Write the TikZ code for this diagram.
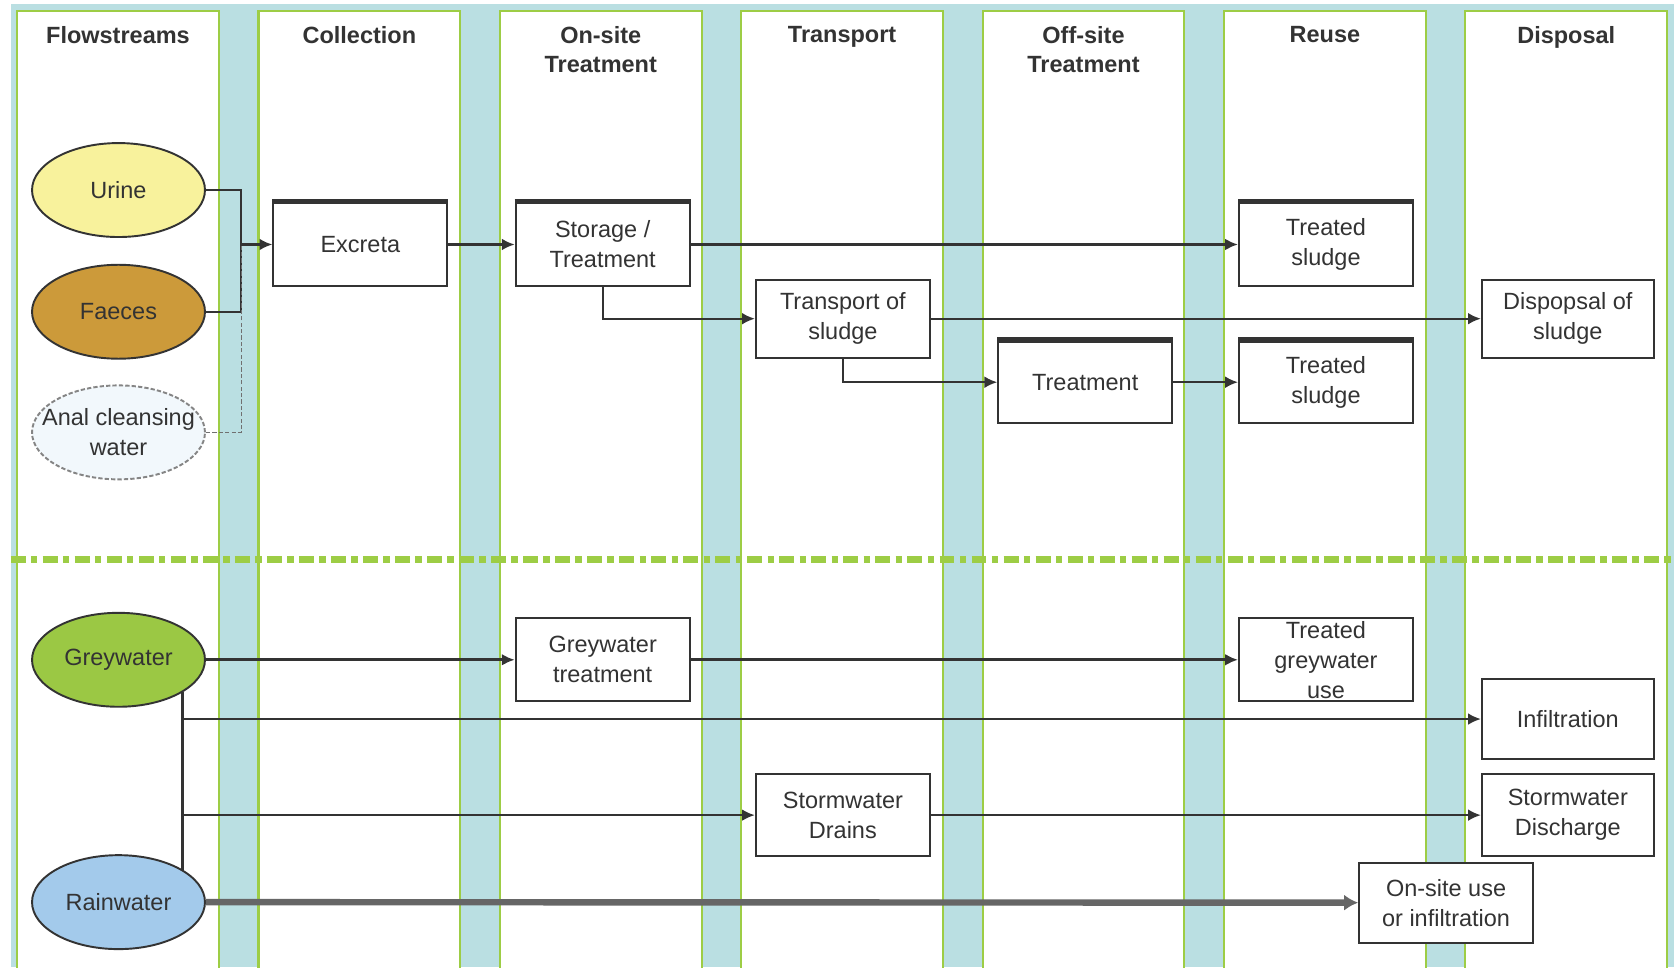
\documentclass[tikz,border=0pt]{standalone}
\usepackage{fontspec}
\setmainfont{Liberation Sans}
\usetikzlibrary{arrows.meta,shapes.geometric}

\definecolor{laneblue}{HTML}{BADFE2}
\definecolor{lanegreen}{HTML}{9DCD45}
\definecolor{urinecol}{HTML}{F8F29C}
\definecolor{faecescol}{HTML}{CC9A3A}
\definecolor{analcol}{HTML}{F2F8FC}
\definecolor{greycol}{HTML}{9BC844}
\definecolor{raincol}{HTML}{A3CAEB}
\definecolor{ink}{HTML}{333333}

\begin{document}
\begin{tikzpicture}[x=0.5pt, y=-0.5pt, >={Latex[length=6pt,width=5.5pt]},
	every node/.style={font=\fontsize{11}{14}\selectfont, text=ink},
	stream/.style={ellipse, draw=ink, line width=0.9pt, minimum width=81pt, minimum height=44pt, inner sep=0pt, align=center},
	techbox/.style={draw=ink, line width=0.9pt, fill=white, minimum width=81.5pt, minimum height=39pt, inner sep=1pt, align=center},
	lanehead/.style={font=\bfseries\fontsize{11}{14}\selectfont, anchor=north, inner sep=0pt, align=center},
	flowline/.style={draw=ink, line width=1pt}]
	\useasboundingbox (0,0) rectangle (1568,906);
	\clip (0,0) rectangle (1568,906);
	\fill[laneblue] (10,4) rectangle (1568,906);
	\foreach \i/\lanename in {0/Flowstreams, 1/Collection, 2/{On-site\\Treatment}, 3/Transport, 4/{Off-site\\Treatment}, 5/Reuse, 6/Disposal} {
		\pgfmathsetmacro\xl{16+226.1*\i}
		\filldraw[fill=white, draw=lanegreen, line width=1pt] (\xl,910) -- (\xl,10) -- (\xl+189,10) -- (\xl+189,910);
		\node[lanehead] (head\i) at (\xl+94.5,24) {\lanename};
	}
	\draw[lanegreen, line width=3.5pt, dash pattern=on 7pt off 2.5pt on 3pt off 2.5pt] (10,524) -- (1568,524);

	\node[stream, fill=urinecol] (urine) at (111,178) {Urine};
	\node[stream, fill=faecescol] (faeces) at (111,292) {Faeces};
	\node[stream, fill=analcol, draw=ink!60, dash pattern=on 2pt off 1pt, inner xsep=-8pt, inner ysep=-3pt] (anal) at (111,405) {Anal cleansing\\water};
	\node[stream, fill=greycol] (grey) at (111,618) {Greywater};
	\node[stream, fill=raincol] (rain) at (111,845) {Rainwater};

	\node[techbox] (excreta) at (337.5,229) {Excreta};
	\node[techbox] (storage) at (564.5,229) {Storage /\\Treatment};
	\node[techbox] (sludgeA) at (1242,229) {Treated\\sludge};
	\node[techbox, minimum height=36.5pt] (haul) at (789.5,298.5) {Transport of\\sludge};
	\node[techbox, minimum height=36.5pt, minimum width=80.5pt] (sludgedisp) at (1468.5,298.5) {Dispopsal of\\sludge};
	\node[techbox, minimum height=38pt] (offtreat) at (1016.5,358) {Treatment};
	\node[techbox, minimum height=38pt] (sludgeB) at (1242,358) {Treated\\sludge};
	\node[techbox] (greytreat) at (564.5,618) {Greywater\\treatment};
	\node[techbox] (greyuse) at (1242,618) {Treated\\greywater\\use};
	\node[techbox, minimum height=37.5pt, minimum width=80.5pt] (infil) at (1468.5,673.5) {Infiltration};
	\node[techbox, minimum height=38.5pt] (drains) at (789.5,763.5) {Stormwater\\Drains};
	\node[techbox, minimum height=38.5pt, minimum width=80.5pt] (discharge) at (1468.5,763.5) {Stormwater\\Discharge};
	\node[techbox, minimum height=37.5pt] (onsite) at (1354.5,845.5) {On-site use\\or infiltration};
	\foreach \n in {excreta, storage, sludgeA, offtreat, sludgeB}
		\draw[ink, line width=1.5pt] ([yshift=0.8pt]\n.north west) -- ([yshift=0.8pt]\n.north east);

	\coordinate (merge) at (226,229);
	\draw[flowline] (urine.east) -| (merge);
	\draw[flowline] (faeces.east) -| (merge);
	\draw[flowline, draw=ink!70, line width=0.6pt, dash pattern=on 2pt off 1pt] (anal.east) -| (merge);
	\draw[flowline, ->] (merge) -- (excreta.west);
	\draw[flowline, ->] (excreta.east) -- (storage.west);
	\draw[flowline, ->, line width=1.4pt] (storage.east) -- (sludgeA.west);
	\draw[flowline, ->] (storage.south) |- (haul.west);
	\draw[flowline, ->] (haul.east) -- (sludgedisp.west);
	\draw[flowline, ->] (haul.south) |- (offtreat.west);
	\draw[flowline, ->] (offtreat.east) -- (sludgeB.west);

	\draw[flowline, ->, line width=1.3pt] (grey.east) -- (greytreat.west);
	\draw[flowline, ->, line width=1.3pt] (greytreat.east) -- (greyuse.west);
	\draw[flowline] (grey.-27) -- (rain.27);
	\coordinate (infsplit) at (grey.-27 |- infil.west);
	\coordinate (drainsplit) at (grey.-27 |- drains.west);
	\draw[flowline, ->] (infsplit) -- (infil.west);
	\draw[flowline, ->, line width=1.2pt] (drainsplit) -- (drains.west);
	\draw[flowline, ->] (drains.east) -- (discharge.west);
	\draw[flowline, -{Latex[length=6.5pt,width=7.5pt]}, draw=ink!75, line width=3pt] (rain.east) -- (onsite.west);
\end{tikzpicture}
\end{document}
